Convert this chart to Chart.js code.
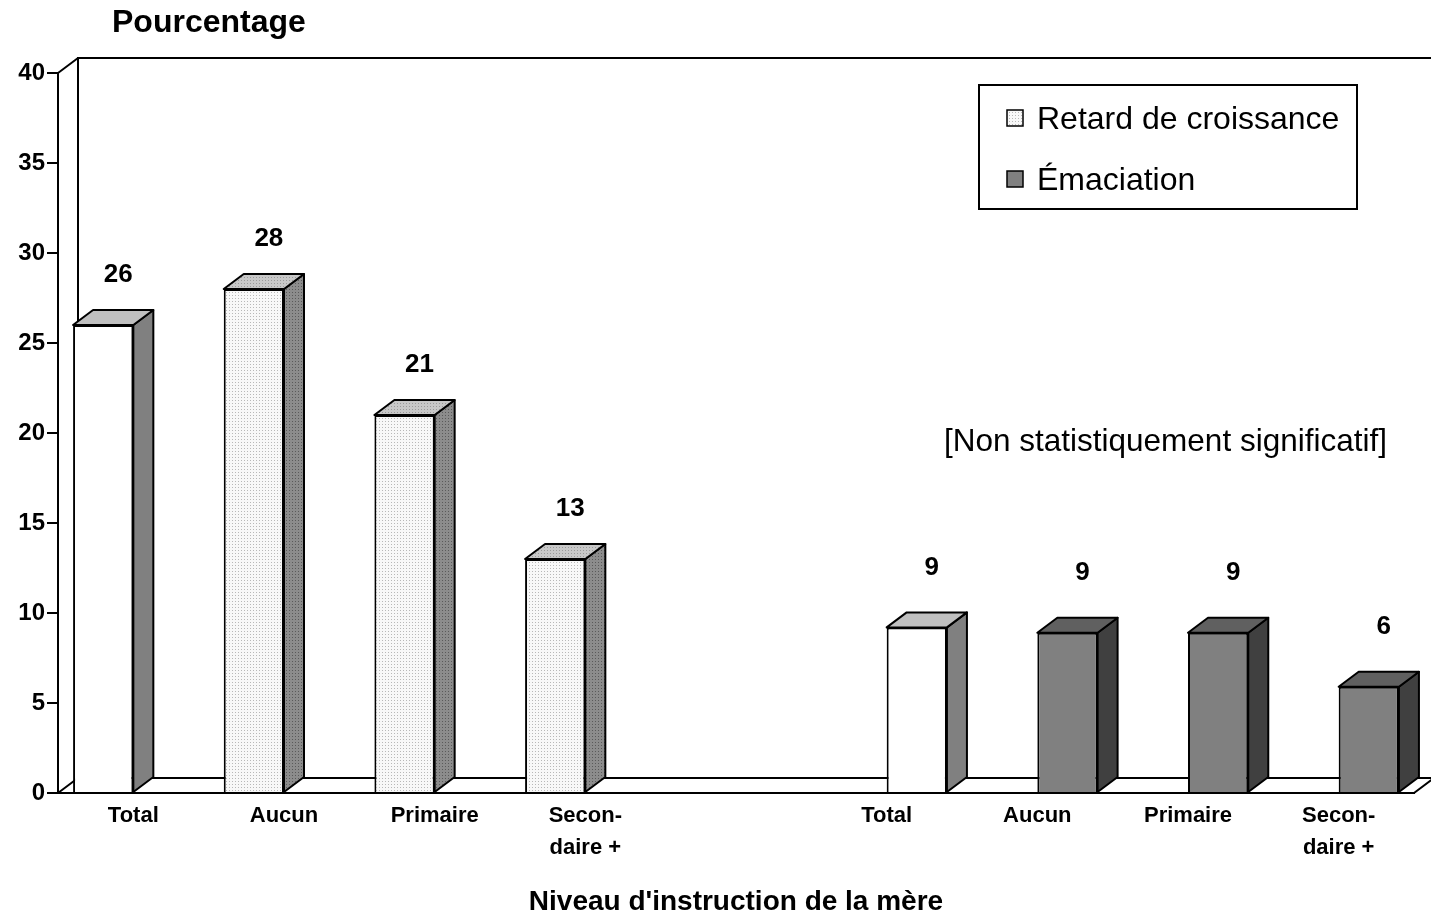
<!DOCTYPE html>
<html>
<head>
<meta charset="utf-8">
<script src="https://cdn.jsdelivr.net/npm/chart.js@4.4.1/dist/chart.umd.min.js"></script>
<style>
  html, body { margin: 0; padding: 0; background: #fff; }
  #wrap { width: 1431px; height: 913px; position: relative; }
</style>
</head>
<body>
<div id="wrap"><canvas id="myChart" width="1431" height="913"></canvas></div>
<script>
// data
const categories = ['Total', 'Aucun', 'Primaire', ['Secon-', 'daire +'], '', 'Total', 'Aucun', 'Primaire', ['Secon-', 'daire +']];
const retard = [26, 28, 21, 13, null, null, null, null, null];
const emaciation = [null, null, null, null, null, 9.2, 8.9, 8.9, 5.9];
const yTicks = [0, 5, 10, 15, 20, 25, 30, 35, 40];
const seriesNames = ['Retard de croissance', 'Émaciation'];

const FONT = '"Liberation Sans", Arial, sans-serif';
const DX = 20, DY = -15; // depth of the 3d look

function dotPattern(base, dot) {
  const c = document.createElement('canvas');
  c.width = 3; c.height = 3;
  const g = c.getContext('2d');
  g.fillStyle = base; g.fillRect(0, 0, 3, 3);
  g.fillStyle = dot; g.fillRect(1, 1, 1, 1);
  return document.getElementById('myChart').getContext('2d').createPattern(c, 'repeat');
}
const dotLight = dotPattern('#f8f8f8', '#b8b8b8');
const dotSide = dotPattern('#8c8c8c', '#5a5a5a');
const dotTop = dotPattern('#c8c8c8', '#999999');

// faces per bar: [front, side, top]
function faces(ds, i) {
  const isTotal = i === 0 || i === 5;
  if (isTotal) return ['#ffffff', '#808080', '#c0c0c0'];
  if (ds === 0) return [dotLight, dotSide, dotTop];
  return ['#808080', '#404040', '#606060'];
}

const frame3d = {
  id: 'frame3d',
  beforeDatasetsDraw(chart) {
    const ctx = chart.ctx, a = chart.chartArea;
    ctx.save();
    ctx.strokeStyle = '#000';
    ctx.lineWidth = 2;
    ctx.beginPath();
    // back wall
    ctx.moveTo(a.left + DX, a.bottom + DY);
    ctx.lineTo(a.left + DX, a.top + DY);
    ctx.lineTo(chart.width + 5, a.top + DY);
    // left wall top
    ctx.moveTo(a.left, a.top);
    ctx.lineTo(a.left + DX, a.top + DY);
    // floor
    ctx.moveTo(a.left, a.bottom);
    ctx.lineTo(a.left + DX, a.bottom + DY);
    ctx.lineTo(chart.width + 5, a.bottom + DY);
    ctx.moveTo(a.right, a.bottom);
    ctx.lineTo(a.right + DX, a.bottom + DY);
    ctx.stroke();
    ctx.restore();
  },
  afterDatasetsDraw(chart) {
    const ctx = chart.ctx;
    ctx.save();
    ctx.strokeStyle = '#000';
    ctx.lineWidth = 2;
    ctx.lineJoin = 'round';
    chart.data.datasets.forEach((d, ds) => {
      chart.getDatasetMeta(ds).data.forEach((bar, i) => {
        if (d.data[i] == null) return;
        const p = bar.getProps(['x', 'y', 'base', 'width'], true);
        const l = p.x - p.width / 2, r = p.x + p.width / 2, t = p.y, b = p.base;
        const f = faces(ds, i);
        // side
        ctx.beginPath();
        ctx.moveTo(r, t); ctx.lineTo(r + DX, t + DY); ctx.lineTo(r + DX, b + DY); ctx.lineTo(r, b); ctx.closePath();
        ctx.fillStyle = f[1]; ctx.fill(); ctx.stroke();
        // top
        ctx.beginPath();
        ctx.moveTo(l, t); ctx.lineTo(l + DX, t + DY); ctx.lineTo(r + DX, t + DY); ctx.lineTo(r, t); ctx.closePath();
        ctx.fillStyle = f[2]; ctx.fill(); ctx.stroke();
        // value label
        ctx.fillStyle = '#000';
        ctx.font = 'bold 26px ' + FONT;
        ctx.textAlign = 'center';
        ctx.textBaseline = 'middle';
        ctx.fillText(String(Math.round(d.data[i])), p.x + 15, t - (ds === 0 ? 50 : 60));
      });
    });
    ctx.restore();
  },
  afterDraw(chart) {
    const ctx = chart.ctx;
    ctx.save();
    ctx.fillStyle = '#000';
    ctx.textBaseline = 'middle';
    ctx.textAlign = 'left';
    ctx.font = 'bold 32px ' + FONT;
    ctx.fillText('Pourcentage', 112, 23);

    // legend box
    ctx.strokeStyle = '#000';
    ctx.lineWidth = 2;
    ctx.fillStyle = '#fff';
    ctx.fillRect(979, 85, 378, 124);
    ctx.strokeRect(979, 85, 378, 124);
    const sw = [dotLight, '#808080'];
    const ly = [118, 179];
    ctx.lineWidth = 1.5;
    ctx.font = '32px ' + FONT;
    seriesNames.forEach((n, k) => {
      ctx.fillStyle = sw[k];
      ctx.fillRect(1007, ly[k] - 8, 16, 16);
      ctx.strokeRect(1007, ly[k] - 8, 16, 16);
      ctx.fillStyle = '#000';
      ctx.fillText(n, 1037, ly[k] + 2);
    });

    ctx.font = '31.5px ' + FONT;
    ctx.fillText('[Non statistiquement significatif]', 944, 442);
    ctx.restore();
  }
};

const ctx = document.getElementById('myChart').getContext('2d');
const chart = new Chart(ctx, {
  type: 'bar',
  data: {
    labels: categories,
    datasets: [
      {
        label: seriesNames[0],
        data: retard,
        backgroundColor: retard.map((v, i) => faces(0, i)[0]),
        borderColor: '#000',
        borderWidth: 2
      },
      {
        label: seriesNames[1],
        data: emaciation,
        backgroundColor: emaciation.map((v, i) => faces(1, i)[0]),
        borderColor: '#000',
        borderWidth: 2
      }
    ]
  },
  options: {
    responsive: false,
    animation: false,
    categoryPercentage: 0.8,
    barPercentage: 1,
    layout: { padding: { top: 73, right: 17, left: 0, bottom: 0 } },
    plugins: {
      legend: { display: false },
      tooltip: { enabled: false }
    },
    scales: {
      x: {
        grid: { display: false, drawTicks: false },
        border: { display: true, color: '#000', width: 2 },
        ticks: {
          color: '#000',
          padding: 7,
          maxRotation: 0,
          autoSkip: false,
          font: { family: FONT, size: 22, weight: 'bold', lineHeight: 1.45 }
        },
        title: {
          display: true,
          text: "Niveau d'instruction de la mère",
          color: '#000',
          padding: { top: 0, bottom: -6 },
          font: { family: FONT, size: 28, weight: 'bold' }
        },
        afterFit(scale) { scale.height = 120; }
      },
      y: {
        min: 0,
        max: 40,
        afterBuildTicks(scale) { scale.ticks = yTicks.map(v => ({ value: v })); },
        grid: { drawOnChartArea: false, drawTicks: true, tickLength: 11, color: '#000', lineWidth: 2 },
        border: { display: true, color: '#000', width: 2 },
        ticks: {
          color: '#000',
          padding: 2,
          font: { family: FONT, size: 24, weight: 'bold' }
        },
        afterFit(scale) { scale.width = 58; }
      }
    }
  },
  plugins: [frame3d]
});
</script>
</body>
</html>
